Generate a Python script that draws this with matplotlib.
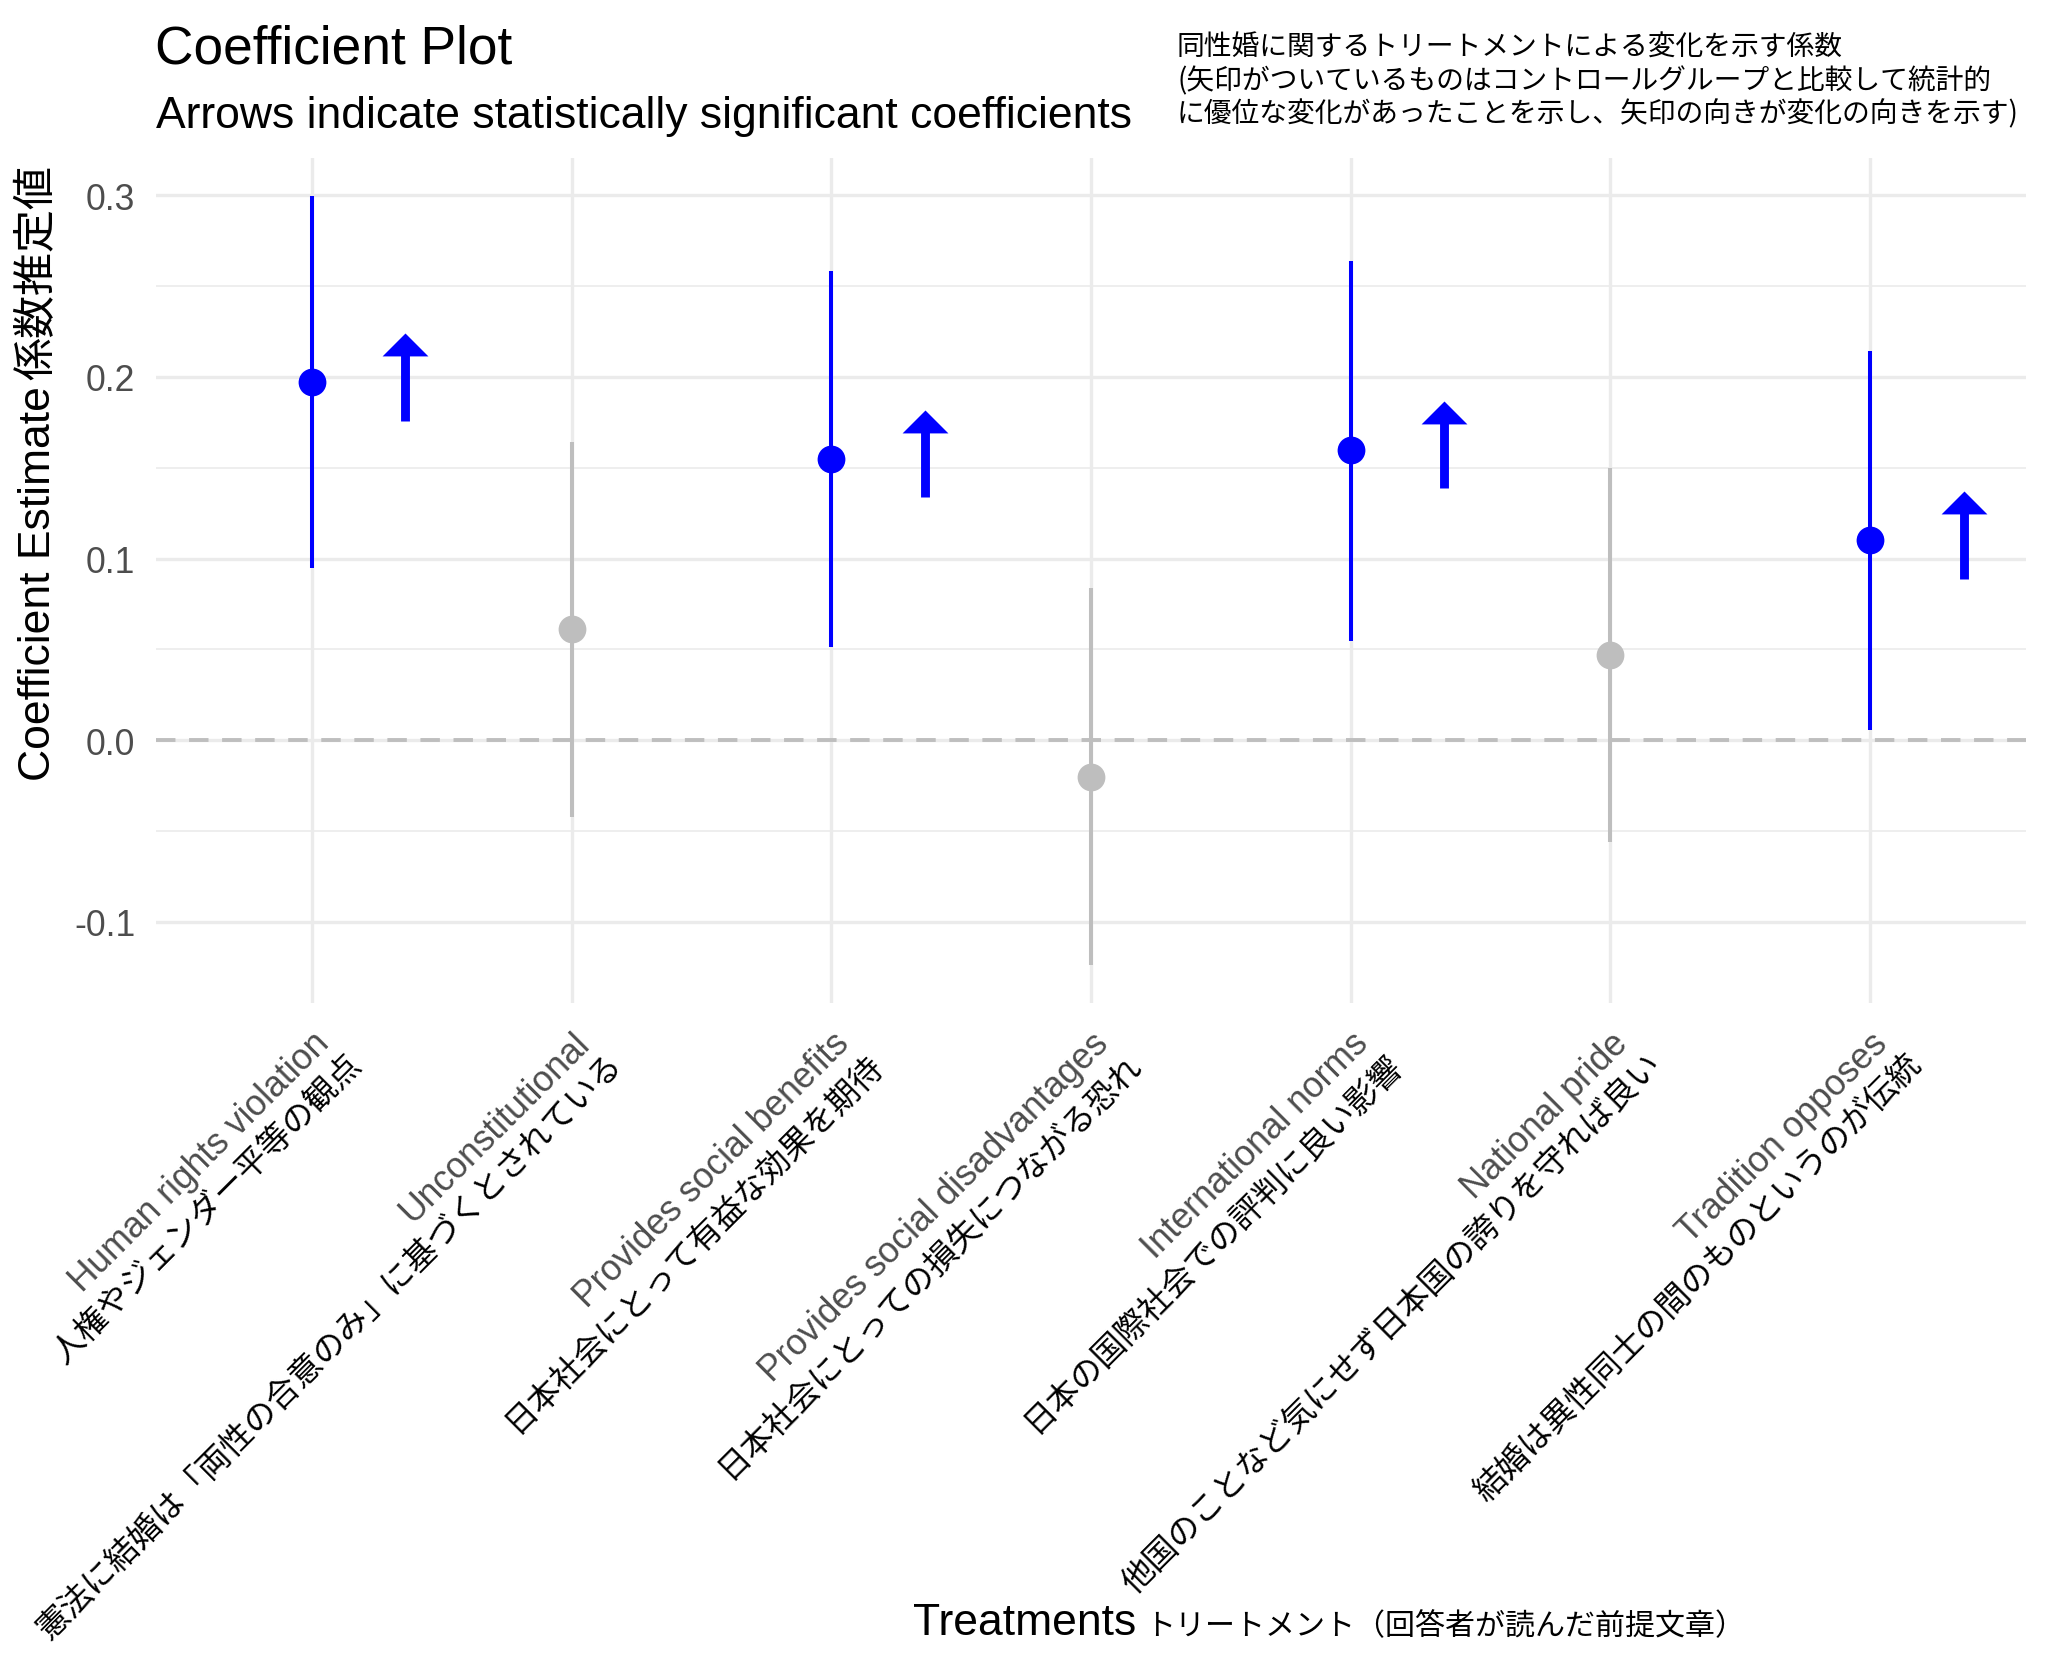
import matplotlib
matplotlib.use("Agg")
import matplotlib.pyplot as plt
import matplotlib.transforms as mtransforms
from matplotlib.path import Path

plt.rcParams["font.family"] = ["Liberation Sans", "Noto Sans CJK JP"]

labels_en = [
    "Human rights violation",
    "Unconstitutional",
    "Provides social benefits",
    "Provides social disadvantages",
    "International norms",
    "National pride",
    "Tradition opposes",
]
labels_jp = [
    "人権やジェンダー平等の観点",
    "憲法に結婚は「両性の合意のみ」に基づくとされている",
    "日本社会にとって有益な効果を期待",
    "日本社会にとっての損失につながる恐れ",
    "日本の国際社会での評判に良い影響",
    "他国のことなど気にせず日本国の誇りを守れば良い",
    "結婚は異性同士の間のものというのが伝統",
]
estimates = [0.197, 0.061, 0.155, -0.020, 0.160, 0.047, 0.110]
ci_low = [0.095, -0.0425, 0.0515, -0.1235, 0.0547, -0.056, 0.0057]
ci_high = [0.2996, 0.1644, 0.2584, 0.0837, 0.2637, 0.1498, 0.2144]
significant = [True, False, True, False, True, False, True]

note_lines = [
    "同性婚に関するトリートメントによる変化を示す係数",
    "(矢印がついているものはコントロールグループと比較して統計的",
    "に優位な変化があったことを示し、矢印の向きが変化の向きを示す)",
]

BLUE = "#0000FF"
GREY = "#BEBEBE"
W, H = 2048, 1658

fig = plt.figure(figsize=(W / 200, H / 200), dpi=200)
ax = fig.add_axes([156 / W, 1 - 1004 / H, (2026 - 156) / W, (1004 - 158.6) / H])

x = list(range(len(labels_en)))
arrow_dx = 0.36
head = Path([(0, 0), (-1, -1), (1, -1), (0, 0)],
            [Path.MOVETO, Path.LINETO, Path.LINETO, Path.CLOSEPOLY])

for i in x:
    color = BLUE if significant[i] else GREY
    ax.plot([i, i], [ci_low[i], ci_high[i]], color=color, lw=1.45,
            solid_capstyle="butt", zorder=3)
    ax.plot(i, estimates[i], "o", color=color, ms=10, mew=0, zorder=4)
    if significant[i]:
        # upward arrow next to significant estimates
        ax.plot([i + arrow_dx] * 2, [estimates[i] - 0.021, estimates[i] + 0.02],
                color=BLUE, lw=3.2, solid_capstyle="butt", zorder=3)
        ax.plot(i + arrow_dx, estimates[i] + 0.027, marker=head, ms=16.5,
                color=BLUE, mew=0, zorder=4)

ax.axhline(0, color=GREY, lw=1.4, dashes=(5, 3.5), zorder=2)

lo, hi = min(ci_low), max(ci_high)
pad = (hi - lo) * 0.05
ax.set_ylim(lo - pad, hi + pad)
ax.set_xlim(-0.6, len(x) - 0.4)

yt = [-0.1, 0.0, 0.1, 0.2, 0.3]
ax.set_yticks(yt)
ax.set_yticklabels([f"{v:.1f}" for v in yt])
ax.set_yticks([-0.05, 0.05, 0.15, 0.25], minor=True)
ax.set_xticks(x)
ax.set_xticklabels([])
ax.tick_params(axis="both", which="both", length=0)
ax.tick_params(axis="y", pad=7.5, labelsize=12.8, labelcolor="#4D4D4D")
ax.grid(True, which="major", color="#EBEBEB", lw=1.2, zorder=0)
ax.grid(True, which="minor", axis="y", color="#EBEBEB", lw=0.6, zorder=0)
ax.set_axisbelow(True)
for s in ax.spines.values():
    s.set_visible(False)

# two-line rotated tick labels: english grey, japanese black
base = mtransforms.blended_transform_factory(ax.transData, ax.transAxes)
perp, along = 14.5, 3.0
jx = (perp + along) * 0.7071
jy = (-perp + along) * 0.7071
for i in x:
    off = mtransforms.ScaledTranslation(0, -8 / 72, fig.dpi_scale_trans)
    ax.text(i, 0, labels_en[i], transform=base + off, rotation=45,
            rotation_mode="anchor", ha="right", va="top", fontsize=12.8,
            color="#4D4D4D", clip_on=False)
    off = mtransforms.ScaledTranslation(jx / 72, (-8 + jy) / 72, fig.dpi_scale_trans)
    ax.text(i, 0, labels_jp[i], transform=base + off, rotation=45,
            rotation_mode="anchor", ha="right", va="top", fontsize=11.7,
            color="black", family=["Noto Sans CJK JP"], clip_on=False)

fig.text(155 / W, 1 - 63 / H, "Coefficient Plot", fontsize=19.2, va="baseline")
fig.text(156 / W, 1 - 128 / H, "Arrows indicate statistically significant coefficients",
         fontsize=16, va="baseline")
for k, line in enumerate(note_lines):
    fig.text(1177 / W, 1 - (56 + 33 * k) / H, line, fontsize=10, va="baseline",
             family=["Noto Sans CJK JP"])

fig.text(913 / W, 1 - 1635 / H, "Treatments", fontsize=16, va="baseline")
fig.text(1145 / W, 1 - 1635 / H, "トリートメント（回答者が読んだ前提文章）",
         fontsize=10.8, va="baseline", family=["Noto Sans CJK JP"])

fig.text(38 / W, 1 - 781 / H, "Coefficient Estimate", fontsize=16, rotation=90,
         rotation_mode="anchor", ha="left", va="center")
fig.text(37 / W, 1 - 165 / H, "係数推定値", fontsize=15.5, rotation=90,
         rotation_mode="anchor", ha="right", va="center", family=["Noto Sans CJK JP"])

fig.savefig("out.png", dpi=200)
